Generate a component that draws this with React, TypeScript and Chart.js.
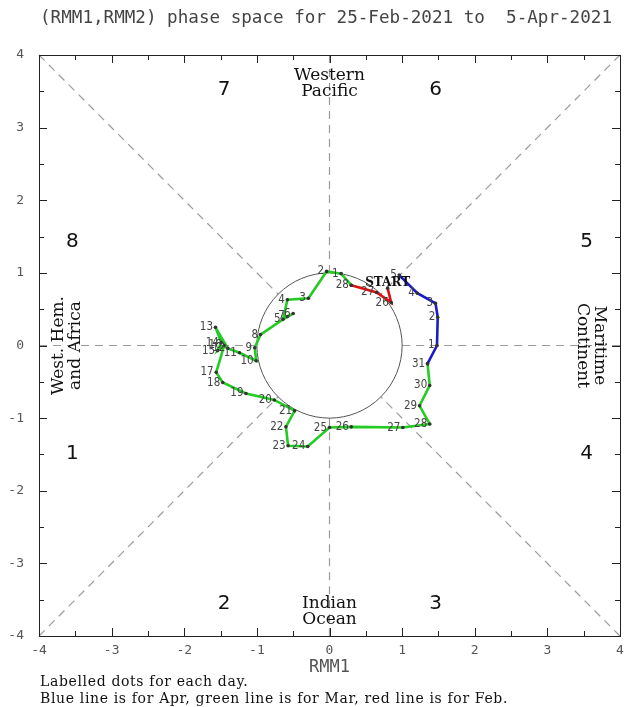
import React, { useEffect, useRef } from 'react';
import { Chart, registerables } from 'chart.js';

Chart.register(...registerables);

// ---------- data ----------
const TITLE = '(RMM1,RMM2) phase space for 25-Feb-2021 to  5-Apr-2021';
const X_AXIS_TITLE = 'RMM1';
const AXIS_MIN = -4;
const AXIS_MAX = 4;
const FOOTER_LINES = [
  'Labelled dots for each day.',
  'Blue line is for Apr, green line is for Mar, red line is for Feb.',
];

const FEB_DAYS = [25, 26, 27, 28];
const FEB_X = [0.80, 0.85, 0.65, 0.30];
const FEB_Y = [0.79, 0.59, 0.73, 0.83];

const MAR_DAYS = [1, 2, 3, 4, 5, 6, 7, 8, 9, 10, 11, 12, 13, 14, 15, 16, 17, 18, 19, 20, 21, 22, 23, 24, 25, 26, 27, 28, 29, 30, 31];
const MAR_X = [0.16, -0.04, -0.29, -0.58, -0.64, -0.50, -0.58, -0.95, -1.03, -1.01, -1.24, -1.40, -1.57, -1.49, -1.54, -1.45, -1.56, -1.47, -1.15, -0.76, -0.48, -0.60, -0.57, -0.30, 0.00, 0.30, 1.01, 1.38, 1.24, 1.38, 1.35];
const MAR_Y = [0.99, 1.02, 0.65, 0.63, 0.36, 0.44, 0.40, 0.15, -0.03, -0.21, -0.10, -0.04, 0.25, 0.04, -0.07, 0.00, -0.37, -0.51, -0.66, -0.75, -0.90, -1.12, -1.38, -1.39, -1.13, -1.12, -1.13, -1.08, -0.83, -0.55, -0.25];

const APR_DAYS = [1, 2, 3, 4, 5];
const APR_X = [1.48, 1.49, 1.46, 1.21, 0.96];
const APR_Y = [0.00, 0.39, 0.58, 0.72, 0.97];

const PHASE_NAMES = ['1', '2', '3', '4', '5', '6', '7', '8'];
const REGION_TOP = ['Western', 'Pacific'];
const REGION_BOTTOM = ['Indian', 'Ocean'];
const REGION_LEFT = ['West. Hem.', 'and Africa'];
const REGION_RIGHT = ['Maritime', 'Continent'];
const START_LABEL = 'START';

// ---------- styles ----------
const RED = '#e01010';
const GREEN = '#22cc22';
const BLUE = '#1a1ac8';
const MONO = "'DejaVu Sans Mono', monospace";
const SERIF = "'DejaVu Serif', serif";
const NARROW = "'DejaVu Sans Condensed', 'Liberation Sans Narrow', 'DejaVu Sans', sans-serif";

const pts = (xs: number[], ys: number[]) => xs.map((x, i) => ({ x, y: ys[i] }));

const febPts = pts(FEB_X, FEB_Y);
const marPts = pts(MAR_X, MAR_Y);
const aprPts = pts(APR_X, APR_Y);

const lineDataset = (label: string, data: { x: number; y: number }[], color: string, days: (number | string | null)[]) => ({
  label,
  data,
  days,
  showLine: true,
  borderColor: color,
  borderWidth: 2.6,
  pointRadius: 1.8,
  pointHoverRadius: 1.8,
  pointBackgroundColor: '#333',
  pointBorderWidth: 0,
  tension: 0,
});

const phasePlugin = {
  id: 'phasePlugin',
  beforeDatasetsDraw(chart: any) {
    const { ctx, scales } = chart;
    const xs = scales.x;
    const ys = scales.y;
    const px = (v: number) => xs.getPixelForValue(v);
    const py = (v: number) => ys.getPixelForValue(v);
    ctx.save();
    // dashed guide lines
    ctx.strokeStyle = '#9a9a9a';
    ctx.lineWidth = 1.2;
    ctx.setLineDash([8, 6]);
    const r = Math.SQRT1_2;
    const segs = [
      [AXIS_MIN, 0, -1, 0], [1, 0, AXIS_MAX, 0],
      [0, 1, 0, AXIS_MAX], [0, -1, 0, AXIS_MIN],
      [AXIS_MIN, AXIS_MAX, -r, r], [AXIS_MAX, AXIS_MAX, r, r],
      [AXIS_MIN, AXIS_MIN, -r, -r], [AXIS_MAX, AXIS_MIN, r, -r],
    ];
    segs.forEach(([a, b, c, d]) => {
      ctx.beginPath();
      ctx.moveTo(px(a), py(b));
      ctx.lineTo(px(c), py(d));
      ctx.stroke();
    });
    ctx.setLineDash([]);
    // unit circle
    ctx.strokeStyle = '#555';
    ctx.lineWidth = 1;
    ctx.beginPath();
    ctx.ellipse(px(0), py(0), px(1) - px(0), py(0) - py(1), 0, 0, Math.PI * 2);
    ctx.stroke();

    // phase numbers
    const phasePos = [
      [-3.54, -1.49], [-1.45, -3.55], [1.46, -3.55], [3.54, -1.49],
      [3.54, 1.43], [1.46, 3.52], [-1.45, 3.52], [-3.54, 1.43],
    ];
    ctx.fillStyle = '#111';
    ctx.font = "20px 'DejaVu Sans', sans-serif";
    ctx.textAlign = 'center';
    ctx.textBaseline = 'middle';
    PHASE_NAMES.forEach((n, i) => {
      ctx.fillText(n, px(phasePos[i][0]), py(phasePos[i][1]));
    });

    // region labels
    ctx.font = `17px ${SERIF}`;
    ctx.fillStyle = '#111';
    ctx.fillText(REGION_TOP[0], px(0), py(3.72));
    ctx.fillText(REGION_TOP[1], px(0), py(3.49));
    ctx.fillText(REGION_BOTTOM[0], px(0), py(-3.55));
    ctx.fillText(REGION_BOTTOM[1], px(0), py(-3.78));

    ctx.save();
    ctx.translate(px(-3.73), py(0));
    ctx.rotate(-Math.PI / 2);
    ctx.fillText(REGION_LEFT[0], 0, 0);
    ctx.fillText(REGION_LEFT[1], 0, 17);
    ctx.restore();

    ctx.save();
    ctx.translate(px(3.71), py(0));
    ctx.rotate(Math.PI / 2);
    ctx.fillText(REGION_RIGHT[0], 0, 0);
    ctx.fillText(REGION_RIGHT[1], 0, 17);
    ctx.restore();

    ctx.restore();
  },
  afterDatasetsDraw(chart: any) {
    const { ctx } = chart;
    ctx.save();
    chart.data.datasets.forEach((ds: any, di: number) => {
      const meta = chart.getDatasetMeta(di);
      meta.data.forEach((el: any, i: number) => {
        const day = ds.days[i];
        if (day === null || day === undefined) return;
        if (day === 'START') {
          ctx.font = `bold 12px ${SERIF}`;
          ctx.fillStyle = '#111';
          ctx.textAlign = 'center';
          ctx.textBaseline = 'bottom';
          ctx.fillText(START_LABEL, el.x, el.y + 1);
          return;
        }
        ctx.font = `11.5px ${NARROW}`;
        ctx.fillStyle = '#444';
        ctx.textAlign = 'right';
        ctx.textBaseline = 'middle';
        ctx.fillText(String(day), el.x - 2.5, el.y);
      });
    });
    ctx.restore();
  },
  afterDraw(chart: any) {
    const { ctx, chartArea: a, scales } = chart;
    const xs = scales.x;
    const ys = scales.y;
    ctx.save();
    // frame
    ctx.strokeStyle = '#222';
    ctx.lineWidth = 1;
    ctx.strokeRect(a.left + 0.5, a.top + 0.5, a.right - a.left, a.bottom - a.top);
    // inward tick marks
    ctx.beginPath();
    for (let v = AXIS_MIN; v <= AXIS_MAX; v += 0.5) {
      const len = Number.isInteger(v) ? 8 : 5;
      const X = Math.round(xs.getPixelForValue(v)) + 0.5;
      const Y = Math.round(ys.getPixelForValue(v)) + 0.5;
      ctx.moveTo(X, a.bottom); ctx.lineTo(X, a.bottom - len);
      ctx.moveTo(X, a.top); ctx.lineTo(X, a.top + len);
      ctx.moveTo(a.left, Y); ctx.lineTo(a.left + len, Y);
      ctx.moveTo(a.right, Y); ctx.lineTo(a.right - len, Y);
    }
    ctx.stroke();
    // title
    ctx.fillStyle = '#444';
    ctx.font = `17.6px ${MONO}`;
    ctx.textAlign = 'center';
    ctx.textBaseline = 'middle';
    ctx.fillText(TITLE, 326, 18);
    // footer
    ctx.fillStyle = '#111';
    ctx.font = `14px ${SERIF}`;
    ctx.textAlign = 'left';
    (ctx as any).letterSpacing = '0.65px';
    ctx.fillText(FOOTER_LINES[0], 40, 682);
    ctx.fillText(FOOTER_LINES[1], 40, 699);
    ctx.restore();
  },
};

export default function App() {
  const ref = useRef<HTMLCanvasElement>(null);
  useEffect(() => {
    const lastFeb = febPts[febPts.length - 1];
    const lastMar = marPts[marPts.length - 1];
    const chart = new Chart(ref.current as HTMLCanvasElement, {
      type: 'scatter',
      data: {
        datasets: [
          lineDataset('Apr', [lastMar, ...aprPts], BLUE, [null, ...APR_DAYS]) as any,
          lineDataset('Mar', [lastFeb, ...marPts], GREEN, [null, ...MAR_DAYS]) as any,
          lineDataset('Feb', febPts, RED, FEB_DAYS.map((d, i) => (i === 0 ? 'START' : d))) as any,
        ],
      },
      options: {
        responsive: false,
        animation: false,
        devicePixelRatio: 1,
        layout: { padding: { left: 8, right: 15, top: 55, bottom: 29 } },
        plugins: {
          legend: { display: false },
          tooltip: { enabled: false },
          title: { display: false },
        },
        scales: {
          x: {
            type: 'linear',
            min: AXIS_MIN,
            max: AXIS_MAX,
            grid: { display: false, drawTicks: false },
            border: { display: false },
            ticks: {
              stepSize: 1,
              autoSkip: false,
              maxRotation: 0,
              padding: 7,
              color: '#555',
              font: { family: MONO, size: 13 },
            },
            title: {
              display: true,
              text: X_AXIS_TITLE,
              color: '#555',
              font: { family: MONO, size: 17 },
              padding: { top: 0, bottom: 0 },
            },
            afterFit: (s: any) => { s.height = 42; },
          },
          y: {
            type: 'linear',
            min: AXIS_MIN,
            max: AXIS_MAX,
            grid: { display: false, drawTicks: false },
            border: { display: false },
            ticks: {
              stepSize: 1,
              autoSkip: false,
              padding: 15,
              color: '#555',
              font: { family: MONO, size: 13 },
            },
            afterFit: (s: any) => { s.width = 31; },
          },
        },
      },
      plugins: [phasePlugin],
    });
    return () => chart.destroy();
  }, []);
  return (
    <div style={{ position: 'absolute', left: 0, top: 0, width: 635, height: 707, background: '#fff' }}>
      <canvas ref={ref} width={635} height={707} style={{ display: 'block', width: 635, height: 707 }} />
    </div>
  );
}
